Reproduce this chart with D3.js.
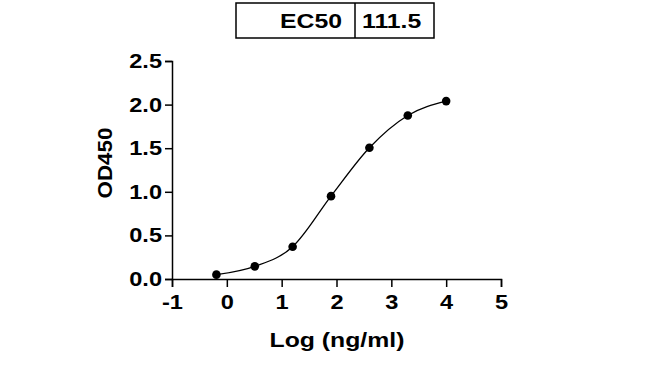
<!DOCTYPE html>
<html>
<head>
<meta charset="UTF-8">
<style>
  body { margin: 0; background: #fff; }
  text { font-family: "Liberation Sans", Arial, sans-serif; font-weight: bold; fill: #000; }
</style>
</head>
<body>
<svg></svg>
<script src="https://cdn.jsdelivr.net/npm/d3@7"></script>
<script>
  let width = 650, height = 368;

  // data
  let logConc = [-0.19, 0.51, 1.2, 1.9, 2.6, 3.3, 4.0];
  let od450 = [0.05, 0.145, 0.37, 0.95, 1.505, 1.875, 2.04];
  let xTicks = [-1, 0, 1, 2, 3, 4, 5];
  let yTicks = [0, 0.5, 1, 1.5, 2, 2.5];
  let tableLabels = ["EC50", "111.5"];

  let svg = d3.select("svg")
    .attr("width", width)
    .attr("height", height);

  let x = d3.scaleLinear().domain([-1, 5]).range([172, 501]);
  let y = d3.scaleLinear().domain([0, 2.5]).range([279, 61]);

  let sx = 1.18; // text in the picture is a bit stretched horizontally

  // y axis
  let yAxis = svg.append("g")
    .attr("transform", "translate(172,0)")
    .call(d3.axisLeft(y).tickValues(yTicks).tickFormat(d3.format(".1f")).tickSizeOuter(0).tickSize(7).tickPadding(3));
  yAxis.select(".domain").attr("stroke-width", 1.5);
  yAxis.selectAll(".tick line").attr("stroke-width", 1.5);
  yAxis.selectAll(".tick text")
    .attr("font-size", 20)
    .attr("font-family", null)
    .attr("transform", function () {
      let t = d3.select(this);
      return `translate(${t.attr("x")},0) scale(${sx},1) translate(${-t.attr("x")},0)`;
    });

  // x axis
  let xAxis = svg.append("g")
    .attr("transform", "translate(0,279)")
    .call(d3.axisBottom(x).tickValues(xTicks).tickFormat(d3.format("d")).tickSizeOuter(0).tickSize(8).tickPadding(8));
  xAxis.select(".domain").attr("stroke-width", 1.5);
  xAxis.selectAll(".tick line").attr("stroke-width", 1.5);
  xAxis.selectAll(".tick text")
    .attr("font-size", 20)
    .attr("font-family", null)
    .text(d => d < 0 ? "-" + Math.abs(d) : d)
    .attr("transform", `scale(${sx},1)`);

  // axis titles
  svg.append("text")
    .attr("transform", `translate(337,347) scale(${sx},1)`)
    .attr("text-anchor", "middle")
    .attr("font-size", 21)
    .text("Log (ng/ml)");

  svg.append("text")
    .attr("transform", "translate(112,163) rotate(-90) scale(1.12,1)")
    .attr("text-anchor", "middle")
    .attr("font-size", 20)
    .text("OD450");

  // curve through points
  let line = d3.line()
    .x((d, i) => x(logConc[i]))
    .y(d => y(d))
    .curve(d3.curveMonotoneX);

  svg.append("path")
    .attr("d", line(od450))
    .attr("fill", "none")
    .attr("stroke", "#000")
    .attr("stroke-width", 1.3);

  svg.append("g")
    .selectAll("circle")
    .data(od450)
    .join("circle")
    .attr("cx", (d, i) => x(logConc[i]))
    .attr("cy", d => y(d))
    .attr("r", 4.3)
    .attr("fill", "#000");

  // EC50 table
  let table = svg.append("g");
  table.append("rect")
    .attr("x", 236).attr("y", 3).attr("width", 198).attr("height", 35)
    .attr("fill", "none").attr("stroke", "#000").attr("stroke-width", 1.5);
  table.append("line")
    .attr("x1", 355).attr("x2", 355).attr("y1", 3).attr("y2", 38)
    .attr("stroke", "#000").attr("stroke-width", 1.5);
  table.append("text")
    .attr("transform", `translate(342,28) scale(${sx},1)`)
    .attr("text-anchor", "end")
    .attr("font-size", 21)
    .text(tableLabels[0]);
  table.append("text")
    .attr("transform", `translate(362,28) scale(${sx},1)`)
    .attr("text-anchor", "start")
    .attr("font-size", 21)
    .text(tableLabels[1]);
</script>
</body>
</html>
